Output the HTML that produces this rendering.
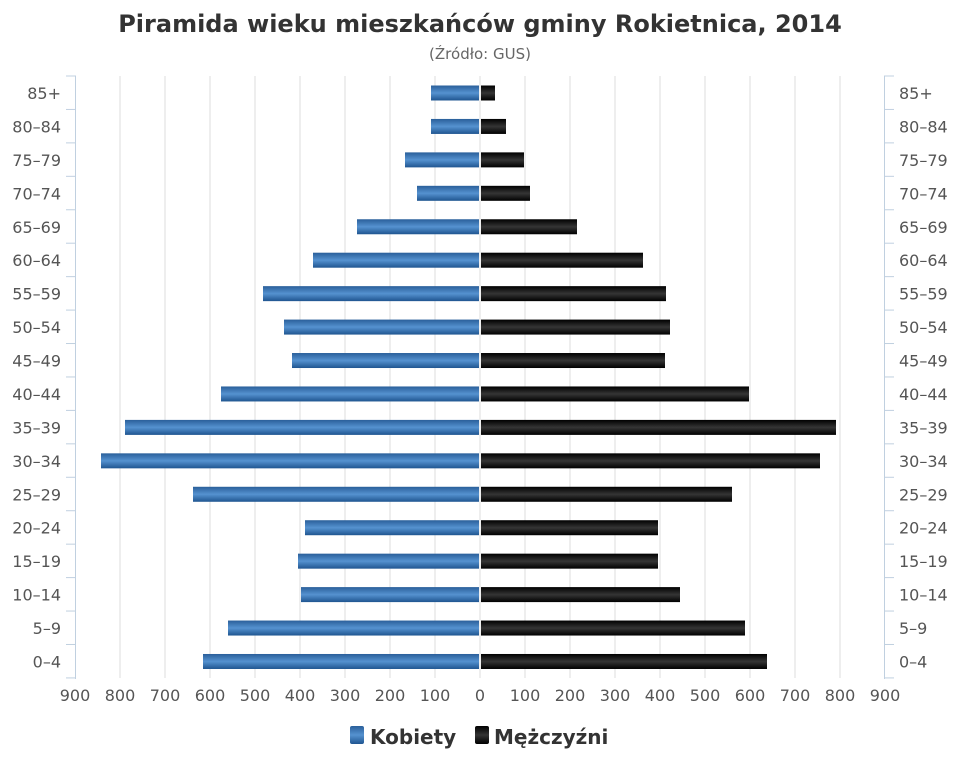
<!DOCTYPE html>
<html><head><meta charset="utf-8"><style>body{margin:0;background:#fff}svg{display:block}text{font-family:"DejaVu Sans","Liberation Sans",sans-serif}</style></head><body>
<svg width="960" height="768" xmlns="http://www.w3.org/2000/svg">
<defs>
<linearGradient id="b" x1="0" y1="0" x2="0" y2="1"><stop offset="0" stop-color="#2a5f9a"/><stop offset="0.5" stop-color="#5592d0"/><stop offset="1" stop-color="#1f5590"/></linearGradient>
<linearGradient id="k" x1="0" y1="0" x2="0" y2="1"><stop offset="0" stop-color="#000"/><stop offset="0.5" stop-color="#353535"/><stop offset="1" stop-color="#000"/></linearGradient>
</defs>
<text x="480" y="32" text-anchor="middle" font-size="24" font-weight="bold" fill="#333">Piramida wieku mieszkańców gminy Rokietnica, 2014</text>
<text x="480" y="59" text-anchor="middle" font-size="15" fill="#666">(Źródło: GUS)</text>
<g id="g" stroke="#ddd" stroke-width="1"></g>
<g id="bars"></g>
<g id="ax" stroke="#c0d0e0" stroke-width="1"></g>
<g id="lab" font-size="16" fill="#555"></g>
<g font-size="20" font-weight="bold" fill="#333">
<rect x="350" y="726" width="14" height="18" fill="url(#b)" rx="2"/><text x="370" y="744">Kobiety</text>
<rect x="475" y="726" width="14" height="18" fill="url(#k)" rx="2"/><text x="494" y="744">Mężczyźni</text>
</g>
<script>
var NS="http://www.w3.org/2000/svg";
function el(p,t,a,tx){var e=document.createElementNS(NS,t);for(var k in a)e.setAttribute(k,a[k]);if(tx)e.textContent=tx;document.getElementById(p).appendChild(e);}
var cats=["85+","80-84","75-79","70-74","65-69","60-64","55-59","50-54","45-49","40-44","35-39","30-34","25-29","20-24","15-19","10-14","5-9","0-4"];
var L=[431,431,405,417,357,313,263,284,292,221,125,101,193,305,298,301,228,203];
var R=[495,506,524,530,577,643,666,670,665,749,836,820,732,658,658,680,745,767];
for(var i=-9;i<=9;i++){var x=480+i*45;if(i!=0&&Math.abs(i)<9)el("g","line",{x1:x,y1:76,x2:x,y2:678});
el("lab","text",{x:x,y:701,"text-anchor":"middle"},String(Math.abs(i)*100));}
el("g","line",{x1:480,y1:76,x2:480,y2:678});
el("ax","line",{x1:75.5,y1:76,x2:75.5,y2:679});
el("ax","line",{x1:884.5,y1:76,x2:884.5,y2:679});
for(var j=0;j<=18;j++){var y=76+j*33.44;el("ax","line",{x1:66,y1:y,x2:76,y2:y});el("ax","line",{x1:884,y1:y,x2:894,y2:y});}
for(var i=0;i<18;i++){var c=93+i*33.44;
el("bars","rect",{x:L[i],y:c-7.5,width:479-L[i],height:15,fill:"url(#b)"});
el("bars","rect",{x:481,y:c-7.5,width:R[i]-481,height:15,fill:"url(#k)"});
var t=cats[i].replace("-","–");
el("lab","text",{x:61,y:c+6,"text-anchor":"end"},t);
el("lab","text",{x:899,y:c+6},t);}
</script>
</svg>
</body></html>
